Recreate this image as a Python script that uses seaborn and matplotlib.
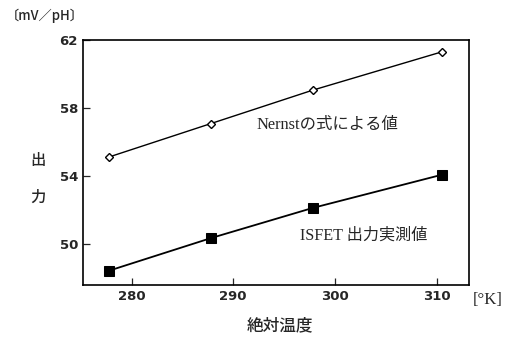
import matplotlib
matplotlib.use("Agg")
import matplotlib.pyplot as plt
import seaborn as sns
import pandas as pd

temps = [277.8, 287.8, 297.8, 310.5]
nernst = [55.13, 57.09, 59.05, 61.3]
isfet = [48.45, 50.36, 52.13, 54.08]
xticks = [280, 290, 300, 310]
yticks = [50, 54, 58, 62]

sns.set_style("ticks")
plt.rcParams['font.family'] = ['Liberation Serif', 'Noto Sans CJK JP', 'DejaVu Sans']

fig = plt.figure(figsize=(5.11, 3.39), dpi=100)
ax = fig.add_axes([0.162, 0.159, 0.756, 0.723])

df_n = pd.DataFrame({"T": temps, "V": nernst})
df_i = pd.DataFrame({"T": temps, "V": isfet})
sns.lineplot(data=df_n, x="T", y="V", ax=ax, color="black", lw=1.0,
             marker="D", markersize=4.5, markerfacecolor="white",
             markeredgecolor="black", markeredgewidth=1.0)
sns.lineplot(data=df_i, x="T", y="V", ax=ax, color="black", lw=1.3,
             marker="s", markersize=6.5, markerfacecolor="black",
             markeredgecolor="black")

ax.set_xlim(275.2, 313.2)
ax.set_ylim(47.6, 62.0)
ax.set_xticks(xticks)
ax.set_yticks(yticks)
ax.tick_params(direction="in", length=5, width=0.9, labelsize=10)
for lab in ax.get_xticklabels() + ax.get_yticklabels():
    lab.set_family(['DejaVu Sans'])
    lab.set_fontweight('bold')
    lab.set_fontsize(9.5)
for s in ax.spines.values():
    s.set_linewidth(1.2)
    s.set_color("black")
ax.set_xlabel("")
ax.set_ylabel("")

ax.text(299.3, 57.0, "Nernstの式による値", ha="center", va="center", fontsize=11.8,
        family=['Liberation Serif', 'Noto Sans CJK JP'])
ax.text(302.8, 50.5, "ISFET 出力実測値", ha="center", va="center", fontsize=11.6,
        family=['Liberation Serif', 'Noto Sans CJK JP'])

fig.text(38/511, 1 - 160/339, "出", ha="center", va="center", fontsize=11,
         family=['Noto Sans CJK JP'], fontweight='medium')
fig.text(38/511, 1 - 197/339, "力", ha="center", va="center", fontsize=11,
         family=['Noto Sans CJK JP'], fontweight='medium')
fig.text(6/511, 1 - 16/339, "〔mV／pH〕", ha="left", va="center", fontsize=9.5,
         family=['Noto Sans CJK JP'], fontweight='medium')
fig.text(488/511, 1 - 300/339, "[°K]", ha="center", va="center", fontsize=12,
         family=['Liberation Serif'])
fig.text(280/511, 1 - 325/339, "絶対温度", ha="center", va="center", fontsize=12,
         family=['Noto Sans CJK JP'], fontweight='medium')

fig.savefig("out.png", dpi=100)
